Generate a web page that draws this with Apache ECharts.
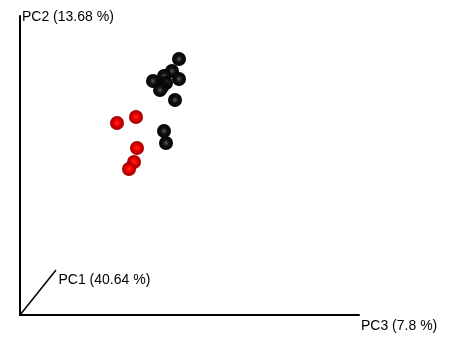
<!DOCTYPE html>
<html>
<head>
<meta charset="utf-8">
<script src="https://cdn.jsdelivr.net/npm/echarts@6/dist/echarts.min.js"></script>
<style>
  html, body { margin: 0; padding: 0; background: #fff; }
  #chart { width: 453px; height: 337px; }
</style>
</head>
<body>
<div id="chart"></div>
<script>
// Axis titles with explained variance
const pc1Label = 'PC1 (40.64 %)';
const pc2Label = 'PC2 (13.68 %)';
const pc3Label = 'PC3 (7.8 %)';

// Projected sample coordinates [horizontal (PC3), vertical (PC2)]
const groupBlack = [
  [159, 256], [152, 244], [133, 234], [144, 239], [159, 236],
  [146, 232], [142, 228], [140, 225], [155, 215],
  [144, 184], [146, 172]
];
const groupRed = [
  [97, 192], [116, 198], [117, 167], [114, 153], [109, 146]
];

// Projected direction of the PC1 axis
const pc1Axis = [[0, 0], [36, 45]];

const FONT = 'Liberation Sans, Arial, sans-serif';

function sphere(inner, mid, outer) {
  return {
    type: 'radial', x: 0.5, y: 0.5, r: 0.55,
    colorStops: [
      { offset: 0, color: inner },
      { offset: 0.4, color: mid },
      { offset: 1, color: outer }
    ]
  };
}

const chart = echarts.init(document.getElementById('chart'));
chart.setOption({
  animation: false,
  backgroundColor: '#ffffff',
  grid: { left: 20, right: 94, top: 16, bottom: 22 },
  xAxis: {
    type: 'value', min: 0, max: 339,
    axisLine: { show: true, lineStyle: { color: '#000', width: 2 } },
    axisTick: { show: false }, axisLabel: { show: false }, splitLine: { show: false },
    name: pc3Label, nameLocation: 'end', nameGap: 2,
    nameTextStyle: {
      color: '#000', fontFamily: FONT, fontSize: 14,
      align: 'left', verticalAlign: 'top', padding: [4, 0, 0, 0]
    }
  },
  yAxis: {
    type: 'value', min: 0, max: 299,
    axisLine: { show: true, lineStyle: { color: '#000', width: 2 } },
    axisTick: { show: false }, axisLabel: { show: false }, splitLine: { show: false },
    name: pc2Label, nameLocation: 'end', nameGap: -1,
    nameTextStyle: {
      color: '#000', fontFamily: FONT, fontSize: 14,
      align: 'left', verticalAlign: 'middle', padding: [0, 0, 0, 2]
    }
  },
  series: [
    {
      type: 'line', data: pc1Axis, symbol: 'none', silent: true,
      lineStyle: { color: '#000', width: 1.5 }
    },
    {
      type: 'scatter', silent: true, symbolSize: 1,
      itemStyle: { color: 'rgba(0,0,0,0)', opacity: 1 },
      data: [{
        value: pc1Axis[1],
        label: {
          show: true, position: 'right', distance: 2, offset: [0, 10],
          formatter: pc1Label, color: '#000',
          fontFamily: FONT, fontSize: 14
        }
      }]
    },
    {
      type: 'scatter', data: groupBlack, symbolSize: 14,
      itemStyle: { color: sphere('#5a5a5a', '#111111', '#000000'), opacity: 1 }
    },
    {
      type: 'scatter', data: groupRed, symbolSize: 14,
      itemStyle: { color: sphere('#ff2a1a', '#ee0000', '#8a0000'), opacity: 1 }
    }
  ]
});
</script>
</body>
</html>
